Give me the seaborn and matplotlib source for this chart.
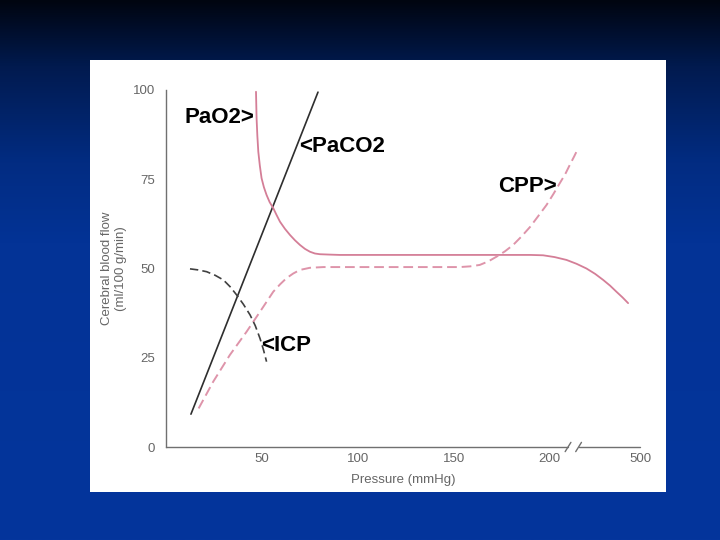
import numpy as np
import matplotlib
matplotlib.use("Agg")
import matplotlib.pyplot as plt
import seaborn as sns
from matplotlib.colors import LinearSegmentedColormap
from matplotlib.patches import Rectangle

# ----------------------------------------
# data (x is the drawn axis position;
# the part after the axis break is squeezed, 500 sits at 247)
# ----------------------------------------
paco2_x = [13.0, 79.2]
paco2_y = [9.2, 99.4]

pao2_x = [46.9, 47.2, 47.6, 48.1, 48.9, 49.8, 51.0, 52.4, 54.0, 55.9,
          57.6, 59.4, 62.0, 64.6, 67.2, 69.8, 72.4, 75.0, 77.6, 80.2,
          85.0, 90.6, 120.0, 153.0, 190.0, 196.5, 202.5, 208.7, 214.0,
          219.1, 223.6, 227.8, 231.4, 234.7, 237.9, 240.8]
pao2_y = [99.5, 92.1, 87.2, 82.7, 78.8, 75.3, 72.8, 70.6, 68.6, 66.9,
          65.0, 63.1, 61.1, 59.4, 57.9, 56.6, 55.5, 54.7, 54.2, 54.0,
          53.9, 53.8, 53.8, 53.8, 53.8, 53.7, 53.2, 52.4, 51.3,
          50.0, 48.5, 46.8, 45.2, 43.5, 41.9, 40.3]

cpp_x = [17.0, 24.6, 33.3, 42.0, 49.0, 55.9, 59.5, 62.8, 66.3, 69.8,
         75.0, 82.0, 100.0, 130.0, 153.0, 158.5, 163.5, 168.0, 172.2,
         176.6, 180.9, 185.3, 189.8, 194.0, 198.3, 201.8, 205.2, 208.0,
         210.4, 212.7, 214.8]
cpp_y = [10.8, 18.3, 25.8, 32.3, 37.9, 43.5, 45.6, 47.3, 48.6, 49.6,
         50.2, 50.4, 50.4, 50.4, 50.4, 50.6, 51.0, 52.0, 53.3,
         54.8, 56.6, 59.0, 61.7, 64.7, 67.8, 70.8, 73.9, 76.4,
         79.0, 81.4, 83.7]

icp_x = [12.5, 16.8, 21.2, 25.6, 29.9, 33.4, 36.8, 40.3, 43.8, 46.5,
         49.0, 50.8, 52.4]
icp_y = [49.9, 49.6, 49.1, 48.1, 46.8, 44.9, 42.6, 40.0, 37.0, 34.0,
         30.4, 27.2, 23.9]

xtick_pos = [50, 100, 150, 200, 247]
xtick_labels = ["50", "100", "150", "200", "500"]
ytick_pos = [0, 25, 50, 75, 100]

labels = ["PaO2>", "<PaCO2", "CPP>", "<ICP"]
label_x = [9.8, 69.4, 173.0, 49.7]
label_y = [92.2, 84.3, 73.1, 28.3]

# ----------------------------------------
# figure + slide background
# ----------------------------------------
sns.set_style("white")
plt.rcParams['font.family'] = ['Liberation Sans', 'DejaVu Sans']

fig = plt.figure(figsize=(7.2, 5.4), dpi=100)

bg = fig.add_axes([0, 0, 1, 1])
bg_cmap = LinearSegmentedColormap.from_list(
    "slide",
    [(0.0, "#000510"), (0.12, "#011a4e"), (0.30, "#022c82"),
     (0.45, "#033396"), (1.0, "#04359c")])
grad = np.linspace(0, 1, 256).reshape(-1, 1)
bg.imshow(grad, aspect="auto", cmap=bg_cmap, extent=[0, 1, 0, 1], origin="upper")
bg.add_patch(Rectangle((90 / 720, 1 - 492 / 540), 576 / 720, 432 / 540,
                       facecolor="white", edgecolor="none"))
bg.set_xlim(0, 1)
bg.set_ylim(0, 1)
bg.axis("off")

# ----------------------------------------
# chart
# ----------------------------------------
ax = fig.add_axes([166 / 720, 1 - 447 / 540, 474 / 720, 357 / 540])
ax.patch.set_alpha(0)

pink = "#d47e97"
pink_light = "#de94aa"
dark = "#2e2e2e"

sns.lineplot(x=paco2_x, y=paco2_y, ax=ax, color=dark, linewidth=1.2)
sns.lineplot(x=pao2_x, y=pao2_y, ax=ax, color=pink, linewidth=1.3)
sns.lineplot(x=cpp_x, y=cpp_y, ax=ax, color=pink_light, linewidth=1.4,
             linestyle=(0, (5, 2.5)))
sns.lineplot(x=icp_x, y=icp_y, ax=ax, color="#404040", linewidth=1.2,
             linestyle=(0, (5, 2.5)))
for ln in ax.lines:
    ln.set_solid_joinstyle("round")
    ln.set_dash_joinstyle("round")

for txt, lx, ly in zip(labels, label_x, label_y):
    ax.text(lx, ly, txt, fontsize=16, fontweight="bold", color="black",
            ha="left", va="center")

ax.set_xlim(0, 247)
ax.set_ylim(0, 100)
ax.set_xticks(xtick_pos)
ax.set_xticklabels(xtick_labels)
ax.set_yticks(ytick_pos)

grey = "#707070"
for side in ["top", "right", "bottom"]:
    ax.spines[side].set_visible(False)
ax.spines["left"].set_color(grey)
ax.spines["left"].set_linewidth(1.0)

# x axis with a break between 200 and 500
brk_lo, brk_hi = 209.5, 215.0
ax.plot([0, brk_lo], [0, 0], color=grey, lw=1.0, clip_on=False)
ax.plot([brk_hi, 247], [0, 0], color=grey, lw=1.0, clip_on=False)
for bx in (brk_lo, brk_hi):
    ax.plot([bx - 1.5, bx + 1.5], [-1.3, 1.3], color=grey, lw=1.0, clip_on=False)

ax.tick_params(axis="x", direction="in", length=5, width=1.0, color=grey,
               labelsize=9.5, labelcolor="#666666", pad=4)
ax.tick_params(axis="y", direction="inout", length=6, width=1.0, color=grey,
               labelsize=9.5, labelcolor="#666666", pad=5)

ax.set_xlabel("Pressure (mmHg)", fontsize=9.5, color="#666666", labelpad=7)
ax.set_ylabel("Cerebral blood flow\n(ml/100 g/min)", fontsize=9.5,
              color="#666666", labelpad=4, linespacing=1.25)

fig.savefig("out.png", dpi=100)
